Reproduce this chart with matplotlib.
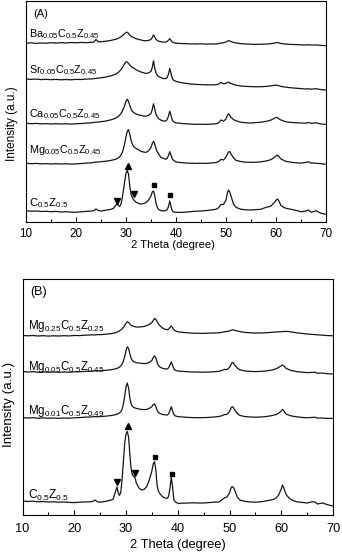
import matplotlib
matplotlib.use('Agg')
import matplotlib.pyplot as plt
from matplotlib.ticker import MultipleLocator

plt.rcParams['font.family'] = ['Liberation Sans', 'DejaVu Sans']
plt.rcParams['mathtext.fontset'] = 'custom'
plt.rcParams['mathtext.rm'] = 'Liberation Sans'
plt.rcParams['mathtext.it'] = 'Liberation Sans:italic'
plt.rcParams['mathtext.bf'] = 'Liberation Sans:bold'

# ---------------- data ----------------
two_theta = [10, 11, 12, 13, 14, 15, 16, 17, 18, 19, 20, 21, 22, 23,
             23.5, 24, 24.5, 25,
             26, 27, 27.5,
             28, 28.25, 28.5, 28.75,
             29, 29.25, 29.5, 29.75,
             30, 30.25, 30.5, 30.75,
             31, 31.25, 31.5, 31.75,
             32, 32.5, 33, 33.5, 34, 34.5,
             35, 35.25, 35.5, 35.75,
             36, 36.25, 36.5,
             37, 37.5,
             38, 38.25, 38.5, 38.75,
             39, 39.25, 39.5,
             40, 41, 42, 43, 44, 45, 46, 47, 48,
             48.5, 49, 49.5,
             50, 50.25, 50.5, 50.75,
             51, 51.5,
             52, 53, 54, 55, 56, 57, 58,
             58.5, 59, 59.5,
             60, 60.25, 60.5, 60.75,
             61, 61.5,
             62, 63, 64, 65, 66,
             66.5, 67, 68, 69, 70]

# Panel (A) intensities (a.u., offset patterns)
a_ba = [178.7, 179.2, 178.6, 179.0, 178.8, 179.3, 178.9, 179.4, 179.0, 179.5, 179.2, 179.6, 179.3, 179.8,
        179.6, 182.5, 180.0, 180.3,
        180.8, 181.6, 182.2,
        182.8, 183.2, 183.8, 184.5,
        185.2, 186.2, 187.3, 188.5,
        189.5, 189.8, 188.6, 187.0,
        185.8, 185.0, 184.6, 184.0,
        183.4, 182.6, 182.0, 181.4, 181.2, 181.6,
        182.6, 184.5, 187.2, 184.8,
        182.6, 181.6, 180.9,
        180.2, 179.9,
        180.0, 180.6, 181.8, 183.3,
        181.5, 180.0, 179.4,
        178.8, 178.5, 178.3, 178.1, 178.0, 178.2, 177.9, 178.1, 178.0,
        178.4, 179.0, 179.3,
        180.0, 180.8, 181.4, 181.0,
        180.4, 179.6,
        179.0, 178.4, 178.0, 177.8, 177.6, 177.8, 177.9,
        178.1, 178.4, 178.8,
        179.2, 179.5, 179.2, 178.8,
        178.5, 178.2,
        177.9, 177.6, 177.4, 177.2, 177.0,
        177.3, 176.9, 177.1, 176.6, 176.3]

a_sr = [143.0, 142.6, 142.9, 142.4, 142.7, 142.3, 142.6, 142.2, 142.5, 142.2, 142.6, 142.5, 142.9, 143.1,
        143.3, 143.6, 143.9, 144.2,
        145.0, 146.2, 147.0,
        148.0, 148.8, 149.8, 151.0,
        152.4, 154.2, 156.3, 158.6,
        160.2, 160.0, 158.6, 157.0,
        155.6, 154.6, 154.0, 153.2,
        152.4, 151.0, 150.0, 149.2, 148.6, 149.0,
        150.6, 154.5, 161.2, 153.8,
        149.0, 146.8, 145.6,
        144.2, 143.4,
        143.4, 144.6, 148.0, 153.5,
        148.6, 143.8, 141.9,
        140.6, 139.4, 138.6, 138.0, 137.6, 137.4, 137.2, 137.1, 137.3,
        137.8, 139.6, 138.2,
        138.6, 139.4, 139.8, 139.2,
        138.6, 137.6,
        136.8, 136.0, 135.6, 135.4, 135.2, 135.3, 135.6,
        135.8, 136.2, 136.6,
        136.8, 136.7, 136.4, 136.0,
        135.6, 135.2,
        134.8, 134.2, 133.8, 133.4, 133.0,
        133.2, 132.8, 133.3, 132.4, 132.0]

a_ca = [98.7, 98.3, 98.6, 98.1, 98.4, 98.0, 98.3, 98.0, 98.2, 97.9, 98.2, 98.5, 98.8, 99.2,
        99.5, 99.8, 100.0, 100.3,
        101.0, 102.2, 103.0,
        104.0, 104.8, 105.8, 107.0,
        108.6, 110.6, 113.4, 116.8,
        120.8, 122.8, 120.6, 116.8,
        113.0, 110.8, 109.6, 108.8,
        108.0, 107.2, 106.6, 106.0, 105.8, 106.6,
        108.6, 112.5, 118.2, 113.0,
        107.8, 105.2, 103.6,
        101.8, 101.0,
        101.0, 102.6, 106.0, 110.8,
        106.4, 102.0, 100.2,
        99.2, 98.6, 98.2, 97.9, 97.7, 97.8, 97.6, 97.9, 98.2,
        99.0, 102.0, 100.8,
        103.0, 106.4, 108.2, 106.8,
        104.6, 102.4,
        101.2, 99.8, 99.2, 99.0, 99.4, 99.8, 100.6,
        101.2, 102.0, 103.2,
        104.6, 104.4, 103.4, 102.6,
        102.0, 101.0,
        100.2, 99.6, 99.2, 99.0, 98.8,
        99.6, 98.6, 99.2, 98.0, 97.7]

a_mg = [58.7, 58.3, 58.6, 58.1, 58.4, 58.0, 58.3, 58.0, 58.2, 57.9, 58.1, 58.5, 58.8, 59.2,
        59.5, 60.0, 60.0, 60.3,
        60.8, 61.6, 62.2,
        62.8, 63.5, 64.3, 65.4,
        67.0, 69.5, 73.5, 78.8,
        85.3, 90.5, 92.4, 88.0,
        82.0, 78.2, 75.6, 74.4,
        73.7, 72.2, 70.6, 70.0, 69.6, 71.2,
        74.6, 78.5, 80.6, 78.0,
        73.2, 70.2, 68.2,
        64.6, 63.6,
        62.8, 63.8, 66.5, 70.3,
        66.8, 63.2, 61.8,
        60.0, 59.4, 59.0, 58.8, 58.6, 58.8, 58.6, 59.0, 59.5,
        60.4, 62.6, 62.0,
        65.0, 67.6, 70.0, 70.4,
        68.0, 64.2,
        61.6, 60.4, 59.8, 59.6, 59.8, 60.2, 61.0,
        61.6, 62.4, 64.0,
        66.0, 67.0, 66.2, 64.4,
        63.0, 61.8,
        60.6, 59.8, 59.2, 58.9, 59.6,
        60.2, 59.0, 58.8, 58.3, 57.7]

a_c = [11.3, 10.8, 11.0, 10.5, 10.7, 10.3, 10.6, 10.0, 10.3, 9.8, 9.7, 10.2, 10.6, 11.0,
       11.2, 13.0, 11.4, 11.0,
       11.8, 12.7, 13.7,
       17.0, 18.6, 16.4, 15.6,
       18.0, 24.0, 32.0, 41.0,
       48.7, 51.5, 48.0, 36.0,
       28.0, 24.6, 22.4, 21.0,
       19.8, 18.5, 18.0, 18.4, 19.4, 21.8,
       26.0, 30.0, 31.0, 26.5,
       19.0, 14.8, 12.6,
       11.4, 11.0,
       11.4, 12.6, 15.5, 21.0,
       15.5, 11.2, 10.0,
       9.7, 9.6, 9.9, 10.4, 10.8, 11.0, 11.4, 12.0, 12.7,
       14.2, 17.6, 17.4,
       22.0, 28.5, 32.0, 30.2,
       26.0, 18.0,
       14.7, 12.7, 12.2, 12.0, 12.4, 12.7, 14.7,
       15.2, 16.0, 18.7,
       21.5, 23.0, 21.8, 19.2,
       16.4, 14.8,
       13.7, 12.7, 11.6, 10.3, 11.0,
       12.0, 9.7, 11.3, 8.7, 7.7]

# Panel (B) intensities
b_mg025 = [179.6, 179.2, 179.5, 179.0, 179.3, 178.9, 179.2, 179.0, 179.3, 179.1, 179.5, 179.4, 179.8, 180.0,
           180.2, 180.0, 180.4, 180.3,
           180.8, 181.2, 181.8,
           182.3, 182.8, 183.5, 184.2,
           185.0, 186.2, 187.6, 189.5,
           191.6, 193.2, 192.6, 191.0,
           189.6, 189.0, 188.6, 188.3,
           188.0, 188.0, 188.2, 188.6, 189.4, 190.6,
           192.4, 194.4, 196.6, 195.8,
           193.6, 191.4, 189.6,
           187.2, 185.8,
           185.2, 186.0, 187.6, 189.0,
           187.4, 185.2, 184.2,
           183.2, 182.6, 182.2, 181.8, 181.7, 181.6, 181.9, 182.0, 182.2,
           182.6, 183.2, 183.6,
           184.0, 184.6, 185.0, 185.2,
           184.6, 184.0,
           183.4, 182.6, 182.2, 182.0, 182.0, 182.2, 182.6,
           182.8, 183.0, 183.2,
           183.3, 183.4, 183.5, 183.6,
           183.6, 183.4,
           183.0, 182.2, 181.6, 181.0, 180.6,
           180.4, 180.2, 179.8, 179.4, 179.2]

b_mg005 = [143.4, 143.0, 143.3, 142.8, 143.1, 142.8, 143.0, 142.7, 143.0, 142.8, 143.2, 143.3, 143.6, 143.8,
           144.0, 144.2, 144.0, 144.3,
           144.6, 145.2, 145.6,
           146.2, 146.6, 147.2, 148.0,
           149.0, 151.0, 154.0, 158.5,
           164.5, 168.2, 166.5, 161.0,
           156.6, 154.4, 153.4, 152.8,
           152.4, 152.0, 151.6, 151.4, 151.6, 152.6,
           154.6, 157.4, 159.2, 157.6,
           152.6, 149.8, 148.2,
           146.8, 146.2,
           146.0, 147.4, 150.2, 153.2,
           149.6, 146.0, 144.8,
           144.0, 143.6, 143.2, 143.0, 142.9, 142.8, 143.0, 143.2, 143.8,
           144.4, 145.6, 145.4,
           147.6, 150.2, 152.4, 152.0,
           150.0, 147.0,
           145.2, 144.0, 143.6, 143.4, 143.6, 144.0, 144.8,
           145.4, 146.2, 147.6,
           149.2, 150.0, 149.2, 147.6,
           146.4, 145.4,
           144.4, 143.4, 142.8, 142.4, 142.6,
           142.8, 141.8, 141.9, 141.2, 141.0]

b_mg001 = [97.4, 97.0, 97.3, 96.8, 97.1, 96.8, 97.0, 96.7, 97.0, 96.8, 97.2, 97.4, 97.8, 98.0,
           98.2, 98.4, 98.3, 98.4,
           98.8, 99.4, 99.8,
           100.4, 100.8, 101.4, 102.2,
           103.4, 106.0, 111.0, 119.0,
           128.0, 132.0, 127.0, 117.0,
           111.0, 108.6, 107.6, 107.0,
           106.6, 106.0, 105.6, 105.4, 105.6, 106.6,
           108.4, 110.4, 111.0, 109.0,
           104.8, 102.6, 101.6,
           100.6, 100.2,
           100.0, 101.4, 104.6, 108.3,
           104.0, 100.4, 99.2,
           98.4, 98.0, 97.6, 97.4, 97.3, 97.4, 97.6, 98.0, 98.6,
           99.2, 100.4, 100.6,
           103.4, 106.6, 108.3, 107.4,
           105.0, 101.6,
           99.6, 98.4, 98.0, 97.8, 98.0, 98.4, 99.2,
           99.8, 100.4, 101.8,
           104.0, 105.6, 104.2, 102.0,
           100.8, 99.8,
           99.0, 98.2, 97.6, 97.2, 97.6,
           97.8, 96.9, 97.0, 96.6, 96.6]

b_c = [14.0, 13.5, 13.8, 13.2, 13.5, 13.0, 13.2, 12.8, 13.0, 12.6, 12.4, 12.8, 13.0, 13.2,
       13.4, 15.0, 13.2, 12.8,
       13.6, 14.8, 15.7,
       24.0, 28.0, 22.0, 19.6,
       23.0, 36.0, 54.0, 72.0,
       81.0, 83.5, 78.0, 60.0,
       46.0, 40.0, 38.6, 37.2,
       32.0, 27.0, 25.0, 25.6, 28.3, 35.0,
       44.0, 51.0, 53.3, 46.0,
       30.0, 24.0, 21.7,
       18.6, 17.0,
       16.7, 19.0, 27.0, 37.6,
       28.0, 15.0, 13.2,
       11.7, 11.8, 12.0, 12.2, 12.0, 12.0, 12.4, 12.8, 13.0,
       15.0, 17.0, 18.0,
       22.0, 26.5, 28.4, 27.6,
       25.0, 18.0,
       15.0, 13.6, 13.0, 12.8, 13.2, 14.0, 15.0,
       15.6, 17.0, 20.0,
       26.0, 30.0, 27.0, 23.0,
       20.0, 17.0,
       15.0, 13.2, 12.6, 12.0, 13.2,
       13.0, 11.0, 12.0, 10.2, 9.0]

a_labels = [r'Ba$_{0.05}$C$_{0.5}$Z$_{0.45}$', r'Sr$_{0.05}$C$_{0.5}$Z$_{0.45}$',
            r'Ca$_{0.05}$C$_{0.5}$Z$_{0.45}$', r'Mg$_{0.05}$C$_{0.5}$Z$_{0.45}$',
            r'C$_{0.5}$Z$_{0.5}$']
a_label_level = [185.3, 148.7, 104.7, 68.7, 16.3]

b_labels = [r'Mg$_{0.25}$C$_{0.5}$Z$_{0.25}$', r'Mg$_{0.05}$C$_{0.5}$Z$_{0.45}$',
            r'Mg$_{0.01}$C$_{0.5}$Z$_{0.49}$', r'C$_{0.5}$Z$_{0.5}$']
b_label_level = [186.0, 145.0, 100.7, 16.0]

# phase markers (2theta, height)
mk_shapes = ['v', '^', 'v', 's', 's']
a_mk_theta = [28.25, 30.3, 31.5, 35.6, 38.8]
a_mk_level = [21.5, 56.0, 27.7, 37.3, 27.3]
b_mk_theta = [28.35, 30.35, 31.65, 35.7, 38.95]
b_mk_level = [33.5, 89.0, 42.0, 58.0, 41.0]

xticks = [10, 20, 30, 40, 50, 60, 70]

# ---------------- figure ----------------
W, H = 342, 555
fig = plt.figure(figsize=(W / 100, H / 100), dpi=100)

def px_axes(l, t, r, b):
    return fig.add_axes([l / W, 1 - b / H, (r - l) / W, (b - t) / H])

axA = px_axes(26, 0.5, 326, 222)
axB = px_axes(22.5, 279, 333, 515)

line_kw = dict(color='#151515', lw=0.9)

def style(ax, ytop, tick_pad, fs_tick):
    ax.set_xlim(10, 70)
    ax.set_ylim(0, ytop)
    ax.set_xticks(xticks)
    ax.xaxis.set_minor_locator(MultipleLocator(5))
    ax.set_yticks([])
    ax.tick_params(axis='x', which='major', direction='in', length=3.5, width=0.8,
                   pad=tick_pad, labelsize=fs_tick)
    ax.tick_params(axis='x', which='minor', direction='in', length=2, width=0.8)
    for s in ax.spines.values():
        s.set_linewidth(0.8)

# Panel A
for y in [a_ba, a_sr, a_ca, a_mg, a_c]:
    axA.plot(two_theta, y, **line_kw)
for i, (lab, lev) in enumerate(zip(a_labels, a_label_level)):
    fs = 8.2 if i == len(a_labels) - 1 else 7.8
    axA.text(10.66, lev, lab, fontsize=fs, ha='left', va='baseline')
mk_sizes_a = [3.8, 5.0, 3.8, 3.2, 3.2]
for th, lv, sh, ms in zip(a_mk_theta, a_mk_level, mk_shapes, mk_sizes_a):
    axA.plot([th], [lv], marker=sh, ms=ms, color='black', ls='none')
style(axA, 221.5, 4.3, 8.4)
axA.text(0.023, 0.94, '(A)', transform=axA.transAxes, fontsize=8, ha='left', va='center')
axA.set_xlabel('2 Theta (degree)', fontsize=8.1)
axA.xaxis.set_label_coords(0.491, -0.083)
axA.set_ylabel('Intensity (a.u.)', fontsize=8.5, va='center')
axA.yaxis.set_label_coords(-0.047, 0.446)

# Panel B
for y in [b_mg025, b_mg005, b_mg001, b_c]:
    axB.plot(two_theta, y, **line_kw)
for i, (lab, lev) in enumerate(zip(b_labels, b_label_level)):
    fs = 8.6 if i == len(b_labels) - 1 else 8.3
    axB.text(11.1, lev, lab, fontsize=fs, ha='left', va='baseline')
mk_sizes_b = [4.3, 4.6, 4.3, 3.2, 3.2]
for th, lv, sh, ms in zip(b_mk_theta, b_mk_level, mk_shapes, mk_sizes_b):
    axB.plot([th], [lv], marker=sh, ms=ms, color='black', ls='none')
style(axB, 236, 5.6, 9.2)
axB.text(0.024, 0.943, '(B)', transform=axB.transAxes, fontsize=9, ha='left', va='center')
axB.set_xlabel('2 Theta (degree)', fontsize=9.3)
axB.xaxis.set_label_coords(0.502, -0.103)
axB.set_ylabel('Intensity (a.u.)', fontsize=9.6, va='center')
axB.yaxis.set_label_coords(-0.0435, 0.47)

fig.savefig('out.png', dpi=100)
